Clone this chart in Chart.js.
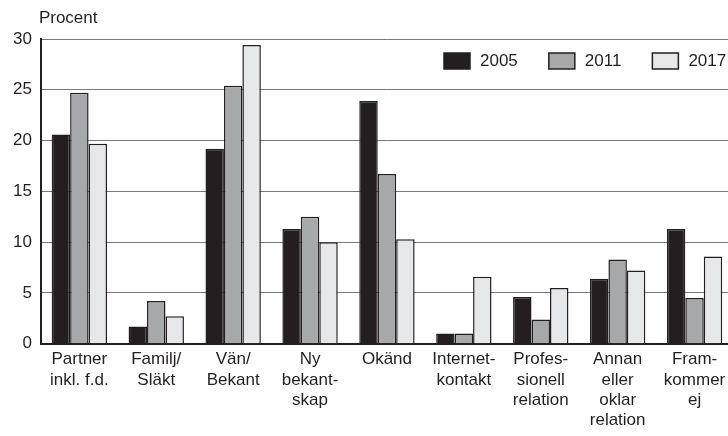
<!DOCTYPE html>
<html>
<head>
<meta charset="utf-8">
<script src="https://cdn.jsdelivr.net/npm/chart.js@4/dist/chart.umd.min.js"></script>
<style>
  html, body { margin: 0; padding: 0; background: #fff; overflow: hidden; }
  #wrap { width: 740px; height: 436px; }
</style>
</head>
<body>
<div id="wrap"><canvas id="chart" width="740" height="436"></canvas></div>
<script>
const categories = [
    ['Partner', 'inkl. f.d.'],
    ['Familj/', 'Släkt'],
    ['Vän/', 'Bekant'],
    ['Ny', 'bekant-', 'skap'],
    ['Okänd'],
    ['Internet-', 'kontakt'],
    ['Profes-', 'sionell', 'relation'],
    ['Annan', 'eller', 'oklar', 'relation'],
    ['Fram-', 'kommer', 'ej']
];
const values2005 = [20.6, 1.7, 19.2, 11.3, 23.9, 1.0, 4.6, 6.4, 11.3];
const values2011 = [24.7, 4.2, 25.4, 12.5, 16.7, 1.0, 2.4, 8.3, 4.5];
const values2017 = [19.7, 2.7, 29.4, 10.0, 10.3, 6.6, 5.5, 7.2, 8.6];
const yTicks = [0, 5, 10, 15, 20, 25, 30];

const ink = '#231f20';
const font = 'Liberation Sans, Arial, sans-serif';

// "Procent" above the y axis and the legend inside the plot, top right
const extras = {
    id: 'extras',
    afterDraw(chart) {
        const ctx = chart.ctx;
        const area = chart.chartArea;
        ctx.save();
        ctx.fillStyle = ink;
        ctx.font = '17px ' + font;
        ctx.textBaseline = 'middle';
        ctx.textAlign = 'left';
        ctx.fillText('Procent', area.left - 2, 18);

        let x = area.right - 289;
        const y = 61;
        chart.data.datasets.forEach(ds => {
            ctx.fillStyle = ds.backgroundColor;
            ctx.fillRect(x, y - 8, 26, 16);
            ctx.strokeStyle = ink;
            ctx.lineWidth = 1.5;
            ctx.strokeRect(x, y - 8, 26, 16);
            ctx.fillStyle = ink;
            ctx.fillText(ds.label, x + 36, y);
            x += 36 + ctx.measureText(ds.label).width + 31;
        });
        ctx.restore();
    }
};

function bars(label, data, fill) {
    return {
        label: label,
        data: data,
        backgroundColor: fill,
        borderColor: ink,
        borderWidth: 1.5,
        borderSkipped: 'bottom',
        categoryPercentage: 0.72,
        barPercentage: 1.0
    };
}

new Chart(document.getElementById('chart').getContext('2d'), {
    type: 'bar',
    data: {
        labels: categories,
        datasets: [
            bars('2005', values2005, '#231f20'),
            bars('2011', values2011, '#a7a8aa'),
            bars('2017', values2017, '#e6e7e8')
        ]
    },
    options: {
        responsive: false,
        animation: false,
        layout: { padding: { top: 39, left: 4, right: 7, bottom: 0 } },
        plugins: {
            tooltip: { enabled: false },
            legend: { display: false }
        },
        scales: {
            x: {
                grid: { display: false, drawTicks: false },
                border: { display: true, color: ink, width: 2 },
                ticks: {
                    color: ink,
                    padding: 6,
                    maxRotation: 0,
                    autoSkip: false,
                    font: { family: font, size: 17, lineHeight: 1.18 }
                }
            },
            y: {
                min: 0,
                max: 30,
                afterBuildTicks(axis) { axis.ticks = yTicks.map(v => ({ value: v })); },
                grid: { color: '#77787b', lineWidth: 1, drawTicks: false },
                border: { display: true, color: ink, width: 2 },
                ticks: {
                    color: ink,
                    padding: 9,
                    font: { family: font, size: 17 }
                }
            }
        }
    },
    plugins: [extras]
});
</script>
</body>
</html>
